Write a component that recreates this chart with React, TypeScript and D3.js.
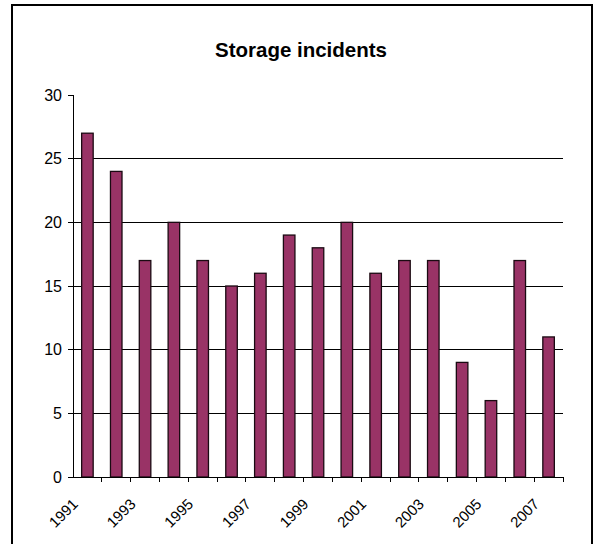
import React from "react";
import * as d3 from "d3";

// Storage incidents per year
const years: string[] = [
  "1991", "1992", "1993", "1994", "1995", "1996", "1997", "1998", "1999",
  "2000", "2001", "2002", "2003", "2004", "2005", "2006", "2007",
];
const incidents: number[] = [27, 24, 17, 20, 17, 15, 16, 19, 18, 20, 16, 17, 17, 9, 6, 17, 11];
const yTicks: number[] = [0, 5, 10, 15, 20, 25, 30];
const labelledYears: string[] = ["1991", "1993", "1995", "1997", "1999", "2001", "2003", "2005", "2007"];

const W = 594;
const H = 544;
const plot = { left: 73, right: 563, top: 95, bottom: 477 };
const font = "'Liberation Sans', Arial, sans-serif";

export default function App() {
  const x = d3.scaleBand<string>().domain(years).range([plot.left, plot.right]);
  const y = d3.scaleLinear().domain([0, 30]).range([plot.bottom, plot.top]);
  const barW = x.bandwidth() * 0.4;
  const bw = x.bandwidth();

  return (
    <svg
      width={W}
      height={H}
      style={{ position: "absolute", left: 0, top: 0, background: "#fff" }}
      fontFamily={font}
    >
      <rect x={0} y={0} width={W} height={H} fill="#fff" />
      {/* chart frame */}
      <rect x={12} y={5} width={580} height={600} fill="none" stroke="#000" strokeWidth={2} />

      <text x={301} y={57} textAnchor="middle" fontSize={20.5} fontWeight="bold" fill="#000">
        Storage incidents
      </text>

      {/* horizontal gridlines */}
      {yTicks.filter((t) => t > 0 && t < 30).map((t) => (
        <line key={`g${t}`} x1={plot.left} x2={plot.right} y1={y(t)} y2={y(t)} stroke="#000" strokeWidth={1} shapeRendering="crispEdges" />
      ))}

      {/* bars */}
      {years.map((yr, i) => {
        const cx = (x(yr) as number) + bw / 2;
        return (
          <rect
            key={yr}
            x={cx - barW / 2}
            y={y(incidents[i])}
            width={barW}
            height={y(0) - y(incidents[i])}
            fill="#993366"
            stroke="#1a0a12"
            strokeWidth={1.3}
          />
        );
      })}

      {/* y axis */}
      <line x1={plot.left} x2={plot.left} y1={plot.top} y2={plot.bottom} stroke="#000" strokeWidth={1} shapeRendering="crispEdges" />
      {yTicks.map((t) => (
        <g key={`y${t}`}>
          <line x1={plot.left - 5} x2={plot.left} y1={y(t)} y2={y(t)} stroke="#000" strokeWidth={1} shapeRendering="crispEdges" />
          <text x={62} y={y(t) + 5.5} textAnchor="end" fontSize={16} fill="#000">
            {t}
          </text>
        </g>
      ))}

      {/* x axis */}
      <line x1={plot.left} x2={plot.right} y1={plot.bottom} y2={plot.bottom} stroke="#000" strokeWidth={1} shapeRendering="crispEdges" />
      {years.map((yr) => (
        <line
          key={`xt${yr}`}
          x1={(x(yr) as number) + bw}
          x2={(x(yr) as number) + bw}
          y1={plot.bottom}
          y2={plot.bottom + 5}
          stroke="#000"
          strokeWidth={1}
          shapeRendering="crispEdges"
        />
      ))}
      {labelledYears.map((yr) => {
        const cx = (x(yr) as number) + bw / 2;
        return (
          <text
            key={`xl${yr}`}
            transform={`translate(${cx - 8.5},${505}) rotate(-45)`}
            textAnchor="end"
            fontSize={15}
            fill="#000"
          >
            {yr}
          </text>
        );
      })}
    </svg>
  );
}
